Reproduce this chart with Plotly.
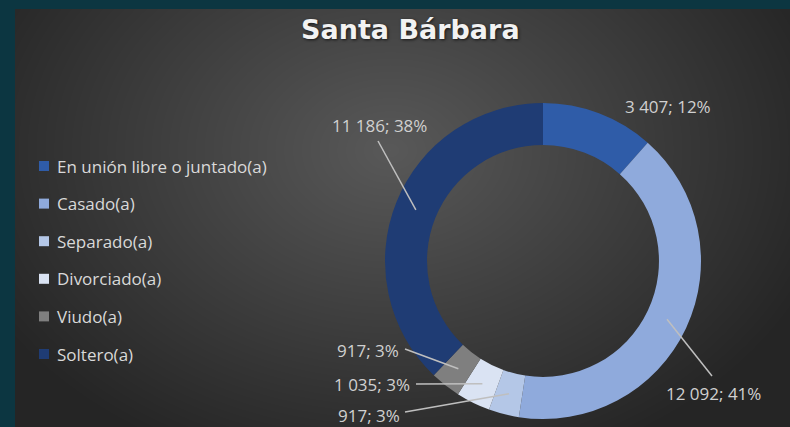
import base64
import math
import struct
import zlib

import numpy as np
import plotly.graph_objects as go

# Estado civil - Santa Bárbara
categories = [
    "En unión libre o juntado(a)",
    "Casado(a)",
    "Separado(a)",
    "Divorciado(a)",
    "Viudo(a)",
    "Soltero(a)",
]
values = [3407, 12092, 917, 1035, 917, 11186]
percent_labels = [12, 41, 3, 3, 3, 38]
colors = ["#2F5CA8", "#8FAADC", "#B4C7E7", "#DAE3F3", "#7F7F7F", "#1F3C74"]

W, H = 790, 427
FRAME_LEFT, FRAME_TOP = 15, 9

# donut geometry in pixels
CX, CY, R_OUT = 543, 261, 158
HOLE = 0.734

# label text centres and leader-line start points (pixels); None = no leader
label_pos = [(668, 106), (713, 393), (369, 415), (372, 384), (368, 350), (379, 125)]
leader_start = [None, (712, 376), (405, 412), (416, 384), (405, 349), (378, 141)]


def px(x):
    return x / W


def py(y):
    return 1 - y / H


def png_data_uri(arr):
    h, w, _ = arr.shape
    raw = b"".join(b"\x00" + arr[i].tobytes() for i in range(h))

    def chunk(tag, data):
        body = tag + data
        return struct.pack(">I", len(data)) + body + struct.pack(">I", zlib.crc32(body) & 0xFFFFFFFF)

    png = (b"\x89PNG\r\n\x1a\n"
           + chunk(b"IHDR", struct.pack(">IIBBBBB", w, h, 8, 2, 0, 0, 0))
           + chunk(b"IDAT", zlib.compress(raw, 9))
           + chunk(b"IEND", b""))
    return "data:image/png;base64," + base64.b64encode(png).decode()


# radial grey gradient for the chart area
bw, bh = W - FRAME_LEFT, H - FRAME_TOP
yy, xx = np.mgrid[0:bh, 0:bw]
gx, gy = 390 - FRAME_LEFT, 150 - FRAME_TOP
d = np.sqrt(((xx - gx) / 460.0) ** 2 + ((yy - gy) / 340.0) ** 2)
shade = 37 + 52 * np.clip(1 - d, 0, 1)
bg = np.repeat(shade[:, :, None], 3, axis=2).astype(np.uint8)
bg_uri = png_data_uri(bg)

fig = go.Figure()

fig.add_trace(go.Pie(
    labels=categories,
    values=values,
    marker=dict(colors=colors, line=dict(width=0)),
    hole=HOLE,
    sort=False,
    direction="clockwise",
    rotation=0,
    textinfo="none",
    showlegend=False,
    domain=dict(x=[px(CX - R_OUT), px(CX + R_OUT)], y=[py(CY + R_OUT), py(CY - R_OUT)]),
))

shapes = []
annotations = []

# data labels with leader lines to the middle of each ring segment
total = sum(values)
r_mid = R_OUT * (1 + HOLE) / 2
cum = 0
for i, v in enumerate(values):
    mid = (cum + v / 2) / total
    cum += v
    theta = 2 * math.pi * mid
    ex = CX + r_mid * math.sin(theta)
    ey = CY - r_mid * math.cos(theta)
    text = f"{v:,}".replace(",", " ") + f"; {percent_labels[i]}%"
    lx, ly = label_pos[i]
    annotations.append(dict(
        x=px(lx), y=py(ly), xref="paper", yref="paper", text=text, showarrow=False,
        xanchor="center", yanchor="middle",
        font=dict(family="Open Sans", size=17, color="#D0D0D0"),
    ))
    if leader_start[i] is not None:
        sx, sy = leader_start[i]
        shapes.append(dict(
            type="line", xref="paper", yref="paper",
            x0=px(sx), y0=py(sy), x1=px(ex), y1=py(ey),
            line=dict(color="#BFBFBF", width=1.5),
        ))

# legend drawn as squares and labels
LEG_X, LEG_Y0, LEG_STEP, SQ = 39, 166, 37.6, 10
for i, (name, col) in enumerate(zip(categories, colors)):
    yc = LEG_Y0 + i * LEG_STEP
    shapes.append(dict(
        type="rect", xref="paper", yref="paper",
        x0=px(LEG_X), x1=px(LEG_X + SQ), y0=py(yc + SQ / 2), y1=py(yc - SQ / 2),
        fillcolor=col, line=dict(width=0),
    ))
    annotations.append(dict(
        x=px(LEG_X + SQ + 6), y=py(yc), xref="paper", yref="paper", text=name,
        showarrow=False, xanchor="left", yanchor="middle",
        font=dict(family="Open Sans", size=17, color="#D9D9D9"),
    ))

annotations.append(dict(
    x=px(410), y=py(30), xref="paper", yref="paper", text="<b>Santa Bárbara</b>",
    showarrow=False, xanchor="center", yanchor="middle",
    font=dict(family="DejaVu Sans", size=27, color="#F2F2F2",
              shadow="1px 1px 3px rgba(0,0,0,0.7)"),
))

fig.update_layout(
    width=W, height=H,
    margin=dict(l=0, r=0, t=0, b=0),
    paper_bgcolor="#0C3641",
    images=[dict(
        source=bg_uri, xref="paper", yref="paper",
        x=px(FRAME_LEFT), y=py(FRAME_TOP), sizex=bw / W, sizey=bh / H,
        xanchor="left", yanchor="top", sizing="stretch", layer="below",
    )],
    shapes=shapes,
    annotations=annotations,
)

fig.write_html("out.html")
